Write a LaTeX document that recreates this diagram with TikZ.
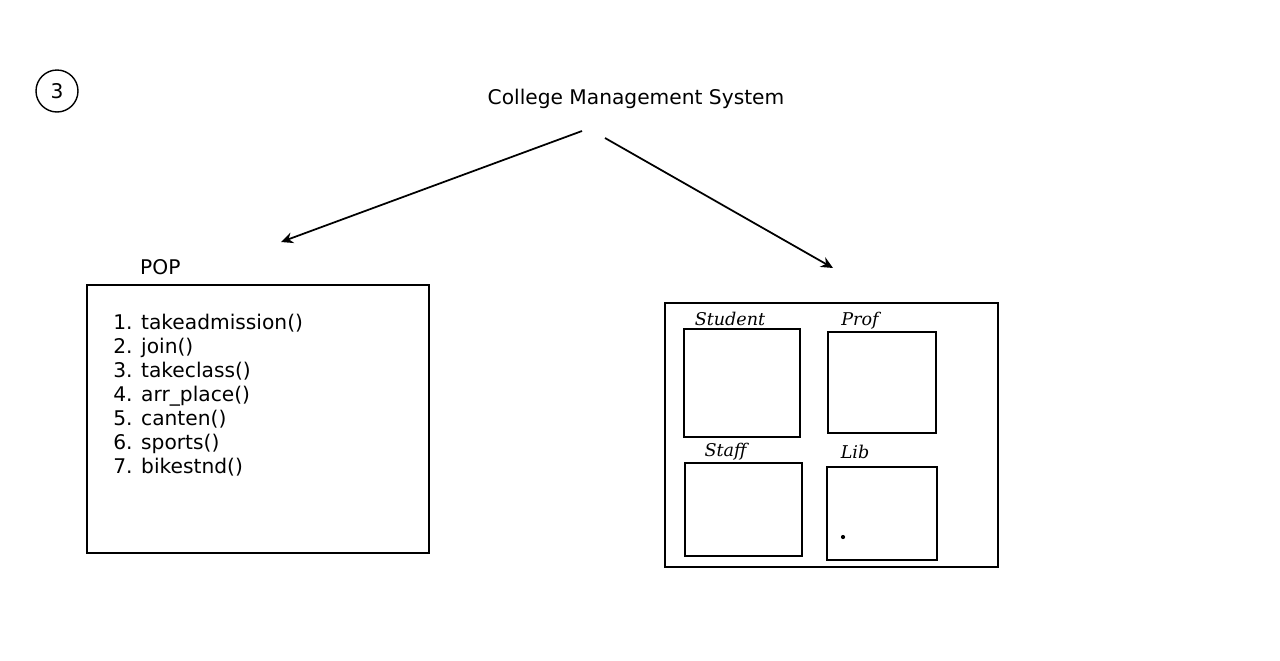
\documentclass[tikz,border=0pt]{standalone}
\usepackage{fontspec}
\setmainfont{DejaVu Sans}
\newfontfamily\handfont{DejaVu Serif}
\usetikzlibrary{positioning, arrows.meta}
\begin{document}
\begin{tikzpicture}[x=0.02cm, y=-0.02cm, every node/.style={font=\fontsize{11.5}{13.6}\selectfont}]
\tikzstyle{box}=[draw, thick, inner sep=0pt]
\tikzstyle{hand}=[font=\handfont\itshape\fontsize{10}{12}\selectfont, inner sep=1pt]
\useasboundingbox[fill=white] (0,0) rectangle (1280,660);
% heading and number
\node[draw, thick, circle, minimum size=0.84cm, inner sep=0pt] (num) at (57,91) {3};
\node (title) at (636,99) {College Management System};
\coordinate (a1) at (582,131); \coordinate (b1) at (281,242);
\coordinate (a2) at (605,138); \coordinate (b2) at (833,268);
\draw[-{Stealth[length=2.4mm, width=2.2mm]}, line width=1pt] (a1)--(b1);
\draw[-{Stealth[length=2.4mm, width=2.2mm]}, line width=1pt] (a2)--(b2);
% left side
\node[box, minimum width=6.84cm, minimum height=5.36cm] (pop) at (258,419) {};
\node[above=2pt of pop.north west, xshift=1.48cm, anchor=south] (poplbl) {POP};
\node[anchor=north west, align=left, inner sep=0pt] (funcs) at (113,314) {1. takeadmission()\\2. join()\\3. takeclass()\\4. arr\_place()\\5. canten()\\6. sports()\\7. bikestnd()};
% right side
\node[box, minimum width=6.66cm, minimum height=5.28cm] (oop) at (831.5,435) {};
\node[box, minimum width=2.32cm, minimum height=2.16cm] (stud) at (742,383) {};
\node[box, minimum width=2.16cm, minimum height=2.02cm] (prof) at (882,382.5) {};
\node[box, minimum width=2.34cm, minimum height=1.86cm] (staff) at (743.5,509.5) {};
\node[box, minimum width=2.2cm, minimum height=1.86cm] (lib) at (882,513.5) {};
\node[hand, above=0pt of stud.north, xshift=-0.24cm] {Student};
\node[hand, above=0pt of prof.north, xshift=-0.44cm] {Prof};
\node[hand, above=0pt of staff.north, xshift=-0.36cm] {Staff};
\node[hand, above=3pt of lib.north, xshift=-0.54cm] {Lib};
\fill (843,537) circle (1.2pt);
\end{tikzpicture}
\end{document}
